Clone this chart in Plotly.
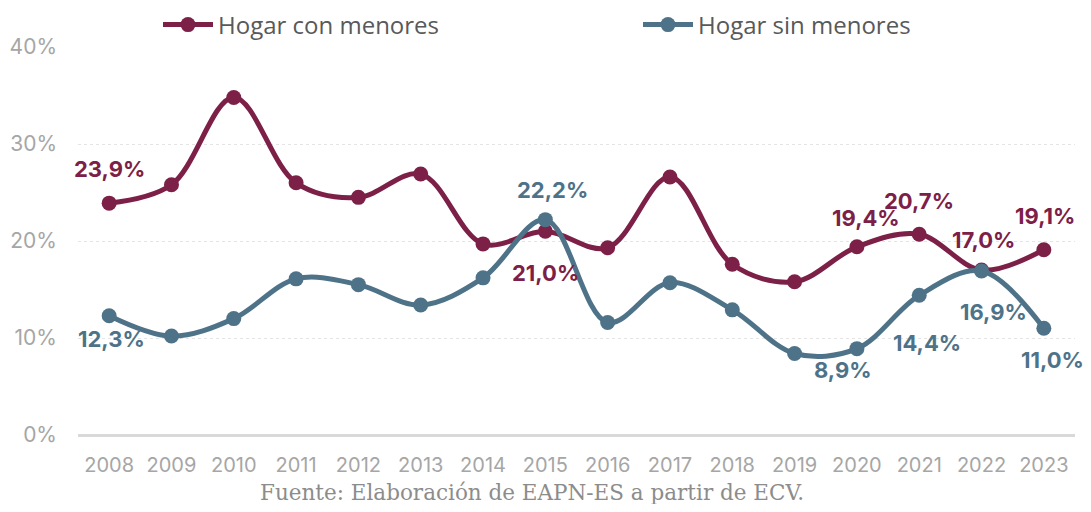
import plotly.graph_objects as go

years = ["2008", "2009", "2010", "2011", "2012", "2013", "2014", "2015",
         "2016", "2017", "2018", "2019", "2020", "2021", "2022", "2023"]
con_menores = [23.9, 25.8, 34.8, 26.0, 24.5, 26.9, 19.7, 21.0,
               19.3, 26.6, 17.6, 15.8, 19.4, 20.7, 17.0, 19.1]
sin_menores = [12.3, 10.2, 12.0, 16.1, 15.5, 13.4, 16.2, 22.2,
               11.6, 15.7, 12.9, 8.4, 8.9, 14.4, 16.9, 11.0]
# labelled points: index -> (vertical offset px, horizontal offset px)
con_labels = {0: (34, 0), 7: (-42, 0), 12: (29, 9), 13: (33, 0), 14: (30, 2), 15: (34, 1)}
sin_labels = {0: (-23, 2), 7: (30, 7), 12: (-21, -14), 13: (-48, 8), 14: (-41, 12), 15: (-32, 9)}

RED = "#7D2048"
BLUE = "#4E7389"

fig = go.Figure()
fig.add_trace(go.Scatter(
    x=years, y=con_menores, name="Hogar con menores", mode="lines+markers",
    line=dict(color=RED, width=5, shape="spline", smoothing=1),
    marker=dict(color=RED, size=15),
))
fig.add_trace(go.Scatter(
    x=years, y=sin_menores, name="Hogar sin menores", mode="lines+markers",
    line=dict(color=BLUE, width=5, shape="spline", smoothing=1),
    marker=dict(color=BLUE, size=15),
))

def fmt(v):
    return f"{v:.1f}".replace(".", ",") + "%"

for vals, labels, col in [(con_menores, con_labels, RED), (sin_menores, sin_labels, BLUE)]:
    for i, (dy, dx) in labels.items():
        fig.add_annotation(
            x=i, y=vals[i], text=fmt(vals[i]), showarrow=False,
            yshift=dy, xshift=dx,
            font=dict(family="Inter, Roboto, sans-serif", size=22, color=col, weight="bold"),
        )

fig.add_annotation(
    x=0.455, xref="paper", y=-0.147, yref="paper", yanchor="middle",
    text="Fuente: Elaboración de EAPN-ES a partir de ECV.", showarrow=False,
    font=dict(family="DejaVu Serif, serif", size=21.5, color="#8C8C8C"),
)

fig.update_layout(
    width=1075, height=496,
    margin=dict(l=70, r=8, t=39, b=69, autoexpand=False),
    paper_bgcolor="white", plot_bgcolor="white",
    showlegend=True,
    legend=dict(
        orientation="h", xref="container", x=150 / 1075, xanchor="left",
        yref="container", y=1 - 17 / 496, yanchor="middle",
        font=dict(family="Open Sans, sans-serif", size=24, color="#595959"),
        entrywidth=415, entrywidthmode="pixels", itemwidth=50,
    ),
    xaxis=dict(
        type="category", range=[-0.5, 15.5], showgrid=False,
        showline=False, ticks="",
        tickfont=dict(family="Inter, Roboto, sans-serif", size=20, color="#A6A6A6"),
        ticklabelstandoff=16,
    ),
    yaxis=dict(
        range=[0, 40], dtick=10, ticksuffix="%",
        showgrid=True, gridcolor="#E4E4E4", griddash="dot", gridwidth=1,
        zeroline=True, zerolinecolor="#D9D9D9", zerolinewidth=3,
        tickfont=dict(family="Inter, Roboto, sans-serif", size=21, color="#A6A6A6"),
        ticklabelstandoff=20,
    ),
)

fig.write_html("out.html")
